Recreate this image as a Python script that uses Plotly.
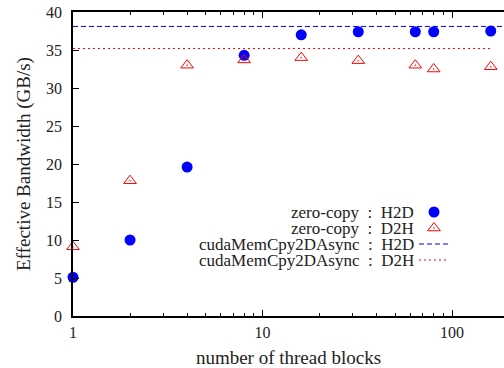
import plotly.graph_objects as go

blocks = [1, 2, 4, 8, 16, 32, 64, 80, 160]
h2d_zero = [5.1, 10.0, 19.6, 34.3, 37.0, 37.4, 37.4, 37.4, 37.5]
d2h_zero = [9.1, 17.8, 33.0, 33.7, 34.0, 33.6, 33.0, 32.5, 32.8]
h2d_async_x = [1, 200]
h2d_async = [38.1, 38.1]
d2h_async_x = [1, 160]
d2h_async = [35.2, 35.2]

legend_labels = ["zero-copy  :  H2D", "zero-copy  :  D2H",
                 "cudaMemCpy2DAsync  :  H2D", "cudaMemCpy2DAsync  :  D2H"]

FONT = "Liberation Serif"
W, H = 504, 368
L, R, T, B = 73, 0, 12, 52
PW, PH = W - L - R, H - T - B

def px(x):  # window pixel -> paper
    return (x - L) / PW

def py(y):
    return (H - B - y) / PH

fig = go.Figure()
fig.add_trace(go.Scatter(x=blocks, y=h2d_zero, mode="markers", name="", legend="legend",
                         marker=dict(symbol="circle", size=11, color="#0000ff"),
                         cliponaxis=False))
fig.add_trace(go.Scatter(x=blocks, y=d2h_zero, mode="markers", name="", legend="legend2",
                         marker=dict(symbol="triangle-up-open-dot", size=11, color="#ff0000",
                                     line=dict(width=1, color="#ff0000")),
                         cliponaxis=False))
fig.add_trace(go.Scatter(x=h2d_async_x, y=h2d_async, mode="lines", name="", legend="legend3",
                         line=dict(color="#0000ff", width=1, dash="5px,3px")))
fig.add_trace(go.Scatter(x=d2h_async_x, y=d2h_async, mode="lines", name="", legend="legend4",
                         line=dict(color="#ff0000", width=1, dash="2px,3px")))

ys = [212, 228, 244, 260]
for lab, yy in zip(legend_labels, ys):
    fig.add_annotation(text=lab, xref="paper", yref="paper",
                       x=px(416), y=py(yy),
                       xanchor="right", yanchor="middle", showarrow=False,
                       font=dict(family=FONT, size=17, color="#222222"))

leg_common = dict(xanchor="left", yanchor="middle", bgcolor="rgba(0,0,0,0)",
                  font=dict(size=10), itemwidth=30, borderwidth=0)
legends = {}
for name, yy in zip(["legend", "legend2", "legend3", "legend4"], ys):
    legends[name] = dict(x=px(414), y=py(yy), **leg_common)

fig.update_layout(
    width=W, height=H,
    margin=dict(l=L, r=R, t=T, b=B, pad=0),
    plot_bgcolor="white", paper_bgcolor="white",
    font=dict(family=FONT, size=16, color="#222222"),
    showlegend=True,
    **legends,
    xaxis=dict(type="log", range=[0, 2.274], showgrid=False, zeroline=False,
               automargin=False,
               showline=True, linecolor="black", linewidth=1.5, mirror="ticks",
               ticks="inside", ticklen=6, tickcolor="black", ticklabelstandoff=1,
               tickvals=[1, 10, 100], ticktext=["1", "10", "100"],
               minor=dict(ticks="inside", ticklen=3, tickcolor="black",
                          tickvals=[2, 3, 4, 5, 6, 7, 8, 9, 20, 30, 40, 50, 60, 70, 80, 90, 200]),
               title=dict(text="number of thread blocks", standoff=11)),
    yaxis=dict(range=[0, 40], showgrid=False, zeroline=False,
               automargin=False, ticklabeloverflow="allow",
               showline=True, linecolor="black", linewidth=1.5,
               ticks="inside", ticklen=6, tickcolor="black", dtick=5, ticklabelstandoff=6,
               title=dict(text="Effective Bandwidth (GB/s)", standoff=10)),
)
fig.write_html("out.html", config={"displayModeBar": False},
               post_script="document.body.style.margin='0px';")
